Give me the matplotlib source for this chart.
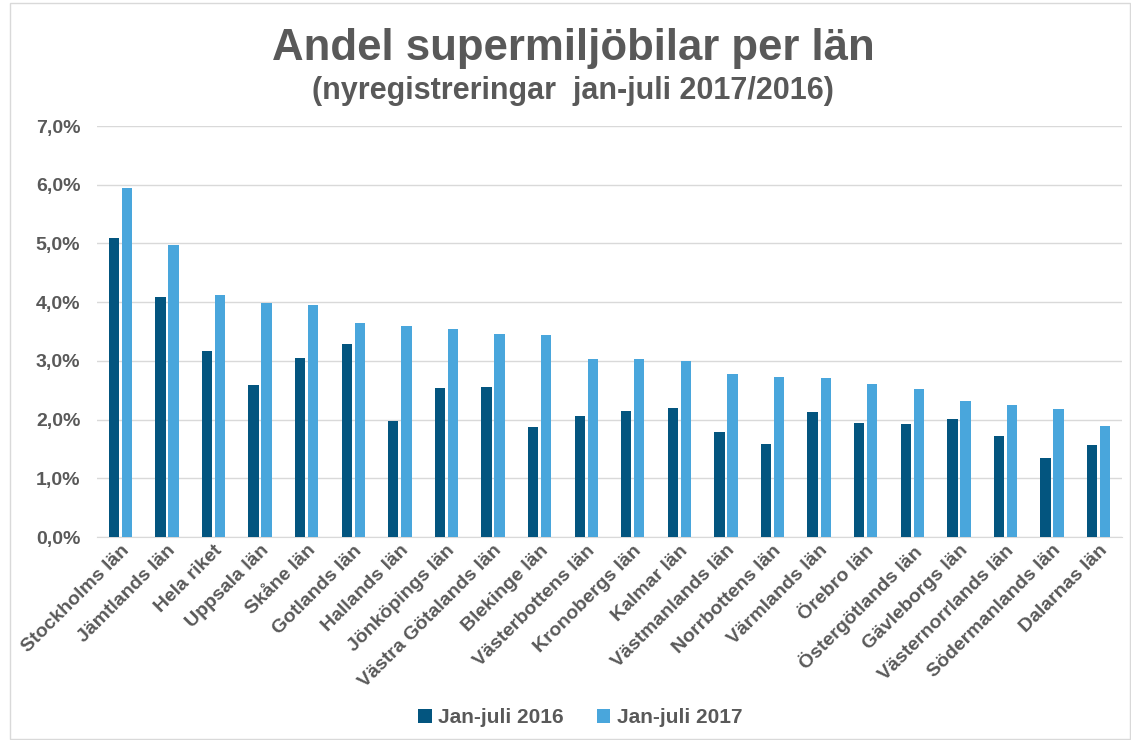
import matplotlib
matplotlib.use('Agg')
import matplotlib.pyplot as plt
import numpy as np
from matplotlib.ticker import FuncFormatter

plt.rcParams['font.family'] = ['Liberation Sans', 'DejaVu Sans']

lan = ['Stockholms län', 'Jämtlands län', 'Hela riket', 'Uppsala län', 'Skåne län',
       'Gotlands län', 'Hallands län', 'Jönköpings län', 'Västra Götalands län',
       'Blekinge län', 'Västerbottens län', 'Kronobergs län', 'Kalmar län',
       'Västmanlands län', 'Norrbottens län', 'Värmlands län', 'Örebro län',
       'Östergötlands län', 'Gävleborgs län', 'Västernorrlands län',
       'Södermanlands län', 'Dalarnas län']
andel2016 = [5.09, 4.09, 3.17, 2.59, 3.05, 3.29, 1.98, 2.54, 2.56, 1.87, 2.06,
             2.15, 2.20, 1.79, 1.58, 2.13, 1.94, 1.93, 2.01, 1.72, 1.35, 1.57]
andel2017 = [5.95, 4.97, 4.12, 3.99, 3.95, 3.64, 3.59, 3.54, 3.46, 3.44, 3.03,
             3.03, 3.00, 2.78, 2.73, 2.71, 2.61, 2.52, 2.32, 2.25, 2.18, 1.89]

textColor = '#595959'
dark = '#03557F'
light = '#49A6DC'

fig = plt.figure(figsize=(11.31, 7.4), dpi=100)
ax = fig.add_axes([0.0858, 0.2743, 0.9062, 0.5554])

x = np.arange(len(lan))
w = 0.22
ax.bar(x - 0.14, andel2016, w, color=dark, label='Jan-juli 2016', zorder=3)
ax.bar(x + 0.14, andel2017, w, color=light, label='Jan-juli 2017', zorder=3)

ax.set_xlim(-0.5, len(lan) - 0.5)
ax.set_ylim(0, 7)
ax.set_yticks(np.arange(0, 8, 1))
ax.yaxis.set_major_formatter(FuncFormatter(lambda v, p: '{:.1f}%'.format(v).replace('.', ',')))
ax.grid(axis='y', color='#d9d9d9', linewidth=1, zorder=0)
for s in ['top', 'right', 'left']:
    ax.spines[s].set_visible(False)
ax.spines['bottom'].set_color('#d9d9d9')
ax.tick_params(axis='both', length=0, colors=textColor, labelsize=14)
ax.tick_params(axis='y', pad=12)
ax.set_xticks(x)
ax.set_xticklabels(lan, rotation=45, ha='right', rotation_mode='anchor', fontweight='bold')
for t in ax.get_yticklabels():
    t.set_fontweight('bold')

fig.text(0.507, 0.935, 'Andel supermiljöbilar per län', ha='center', va='center',
         fontsize=31.5, fontweight='bold', color=textColor)
fig.text(0.507, 0.877, '(nyregistreringar  jan-juli 2017/2016)', ha='center', va='center',
         fontsize=22, fontweight='bold', color=textColor)

leg = fig.legend(loc='center', bbox_to_anchor=(0.513, 0.03), ncol=2, frameon=False,
                 fontsize=15, handlelength=0.65, handleheight=0.65, handletextpad=0.3,
                 columnspacing=1.6)
for t in leg.get_texts():
    t.set_color(textColor)
    t.set_fontweight('bold')

fig.patches.append(plt.Rectangle((0.009, 0.002), 0.99, 0.994, transform=fig.transFigure,
                                 fill=False, edgecolor='#d9d9d9', linewidth=1))

fig.savefig('out.png', dpi=100)
